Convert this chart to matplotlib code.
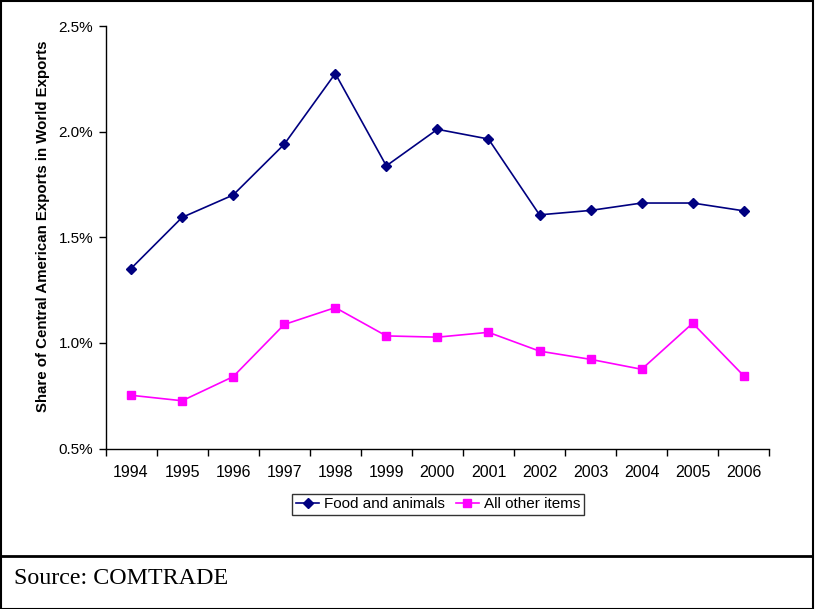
import matplotlib
matplotlib.use("Agg")
import matplotlib.pyplot as plt
from matplotlib.lines import Line2D
from matplotlib.patches import Rectangle
from matplotlib.ticker import FixedLocator, FixedFormatter

years = ["1994", "1995", "1996", "1997", "1998", "1999", "2000",
         "2001", "2002", "2003", "2004", "2005", "2006"]
food_and_animals = [1.352, 1.594, 1.700, 1.940, 2.275, 1.838, 2.011,
                    1.965, 1.606, 1.627, 1.662, 1.662, 1.625]
all_other_items = [0.752, 0.726, 0.840, 1.087, 1.167, 1.033, 1.027,
                   1.050, 0.961, 0.922, 0.875, 1.093, 0.844]
y_ticks = [0.5, 1.0, 1.5, 2.0, 2.5]
y_tick_labels = ["0.5%", "1.0%", "1.5%", "2.0%", "2.5%"]

plt.rcParams["font.family"] = ["Liberation Sans", "DejaVu Sans"]

W, H = 815, 609
fig = plt.figure(figsize=(W / 100, H / 100), dpi=100)
ax = fig.add_axes([105.5 / W, 1 - 448.5 / H, (769.3 - 105.5) / W, (448.5 - 26) / H])

x = list(range(len(years)))
ax.plot(x, food_and_animals, color="#000080", lw=1.2, marker="D",
        markersize=4.8, markerfacecolor="#000080", markeredgecolor="#000080",
        label="Food and animals", clip_on=False)
ax.plot(x, all_other_items, color="#FF00FF", lw=1.2, marker="s",
        markersize=6, markerfacecolor="#FF00FF", markeredgecolor="#FF00FF",
        label="All other items", clip_on=False)

ax.set_xlim(-0.5, len(years) - 0.5)
ax.set_ylim(0.5, 2.5)
ax.set_yticks(y_ticks)
ax.set_yticklabels(y_tick_labels, fontsize=11)

# category axis: ticks on the boundaries, labels centred on each year
ax.xaxis.set_major_locator(FixedLocator([i - 0.5 for i in range(len(years) + 1)]))
ax.xaxis.set_major_formatter(FixedFormatter([""] * (len(years) + 1)))
ax.xaxis.set_minor_locator(FixedLocator(x))
ax.xaxis.set_minor_formatter(FixedFormatter(years))
ax.tick_params(axis="x", which="major", length=5, width=1, direction="out")
ax.tick_params(axis="x", which="minor", length=0, labelsize=11.5, pad=12)
ax.tick_params(axis="y", length=5, width=1, direction="out", pad=4)

for side in ("top", "right"):
    ax.spines[side].set_visible(False)
for side in ("left", "bottom"):
    ax.spines[side].set_linewidth(1.0)

ax.set_ylabel("Share of Central American Exports in World Exports",
              fontsize=10.8, fontweight="bold")
ax.yaxis.set_label_coords(-0.083, 0.525)

leg = fig.legend(handles=ax.get_lines(), loc="center",
                 bbox_to_anchor=(438 / W, 1 - 504.5 / H), ncol=2,
                 fontsize=11, frameon=True, fancybox=False, handlelength=1.55,
                 handletextpad=0.3, columnspacing=0.7, borderpad=0.25,
                 borderaxespad=0)
leg.get_frame().set_edgecolor("black")
leg.get_frame().set_linewidth(1.0)

# outer frame and source note panel
fig.patches.append(Rectangle((0.5 / W, 0.5 / H), (813 - 0.5) / W, 1 - 1 / H,
                             transform=fig.transFigure, fill=False,
                             edgecolor="black", lw=1.5))
fig.add_artist(Line2D([0, 813 / W], [1 - 556 / H] * 2, transform=fig.transFigure,
                      color="black", lw=2, solid_capstyle="butt"))
fig.text(14 / W, 1 - 579 / H, "Source: COMTRADE", fontsize=17.3,
         family="Liberation Serif", va="center", ha="left")

fig.savefig("out.png", dpi=100)
